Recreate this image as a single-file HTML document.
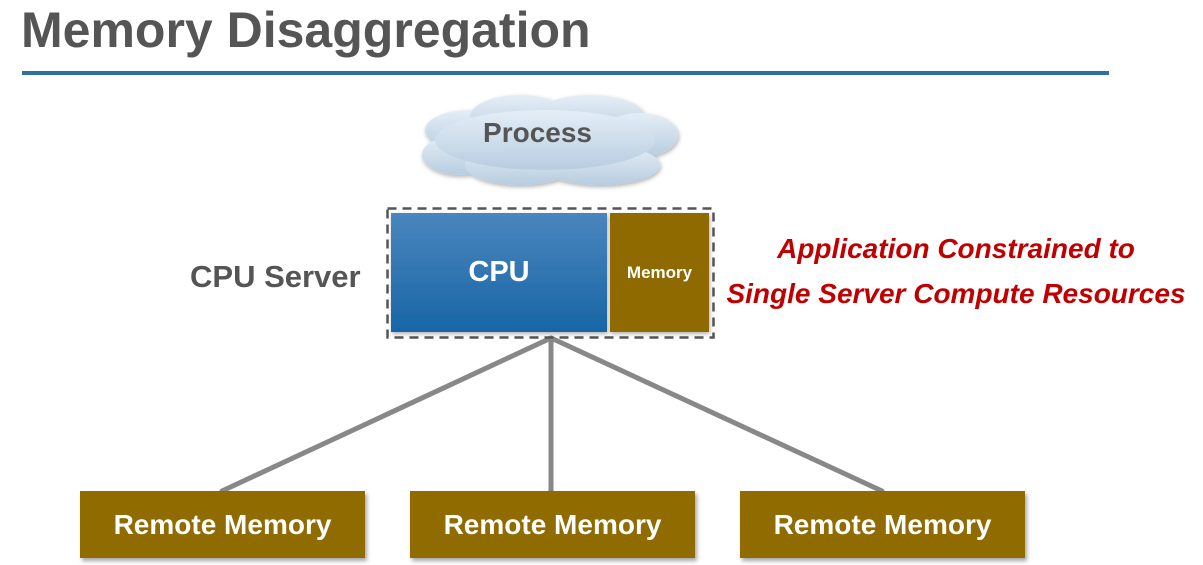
<!DOCTYPE html>
<html><head><meta charset="utf-8"><style>
body{margin:0;width:1203px;height:565px;background:#fff;position:relative;overflow:hidden;font-family:"Liberation Sans",Arial,sans-serif;font-weight:bold}
.a{position:absolute}
.rm{position:absolute;top:491px;width:285px;height:67px;background:#8f6b00;color:#fff;font-size:28px;line-height:67px;text-align:center;box-shadow:2px 3px 4px rgba(0,0,0,.35)}
</style></head><body>
<div class="a" style="left:21px;top:1px;font-size:50px;color:#555">Memory Disaggregation</div>
<div class="a" style="left:22px;top:71px;width:1087px;height:4px;background:#2f72a0"></div>
<svg class="a" style="left:0;top:0" width="1203" height="565">
<defs><linearGradient id="c" x1="0" y1="0" x2="0" y2="1"><stop offset="0" stop-color="#e4eef6"/><stop offset="1" stop-color="#b8cde0"/></linearGradient>
<filter id="s"><feDropShadow dx="1" dy="2" stdDeviation="2" flood-opacity=".3"/></filter></defs>
<g fill="url(#c)" filter="url(#s)">
<ellipse cx="470" cy="130" rx="45" ry="20"/><ellipse cx="520" cy="117" rx="50" ry="22"/><ellipse cx="590" cy="117" rx="55" ry="22"/><ellipse cx="640" cy="135" rx="38" ry="22"/>
<ellipse cx="460" cy="155" rx="38" ry="20"/><ellipse cx="520" cy="165" rx="55" ry="20"/><ellipse cx="600" cy="165" rx="60" ry="20"/><ellipse cx="545" cy="140" rx="110" ry="30"/>
</g>
<g stroke="#888" stroke-width="5" stroke-linecap="round">
<line x1="551" y1="338" x2="222" y2="491"/><line x1="551" y1="338" x2="551" y2="491"/><line x1="551" y1="338" x2="882" y2="491"/></g>
<rect x="387.5" y="208.5" width="326" height="129" fill="none" stroke="#555" stroke-width="2.5" stroke-dasharray="9,6"/>
<defs><linearGradient id="b" x1="0" y1="0" x2="0" y2="1"><stop offset="0" stop-color="#4a86bd"/><stop offset="1" stop-color="#1865a6"/></linearGradient></defs>
<rect x="391" y="213" width="216" height="119" fill="url(#b)" filter="url(#s)"/>
<rect x="610" y="213" width="99" height="119" fill="#8f6b00" filter="url(#s)"/>
</svg>
<div class="a" style="left:415px;top:117px;width:245px;text-align:center;font-size:28px;color:#555">Process</div>
<div class="a" style="left:391px;top:256px;width:216px;text-align:center;font-size:29px;color:#fff">CPU</div>
<div class="a" style="left:610px;top:263px;width:99px;text-align:center;font-size:17px;color:#fff">Memory</div>
<div class="a" style="left:190px;top:259px;font-size:31px;color:#555">CPU Server</div>
<div class="a" style="left:720px;top:226px;width:472px;text-align:center;font-size:28px;color:#c00000;font-style:italic;line-height:45px">Application Constrained to<br>Single Server Compute Resources</div>
<div class="rm" style="left:80px">Remote Memory</div>
<div class="rm" style="left:410px">Remote Memory</div>
<div class="rm" style="left:740px">Remote Memory</div>
</body></html>
